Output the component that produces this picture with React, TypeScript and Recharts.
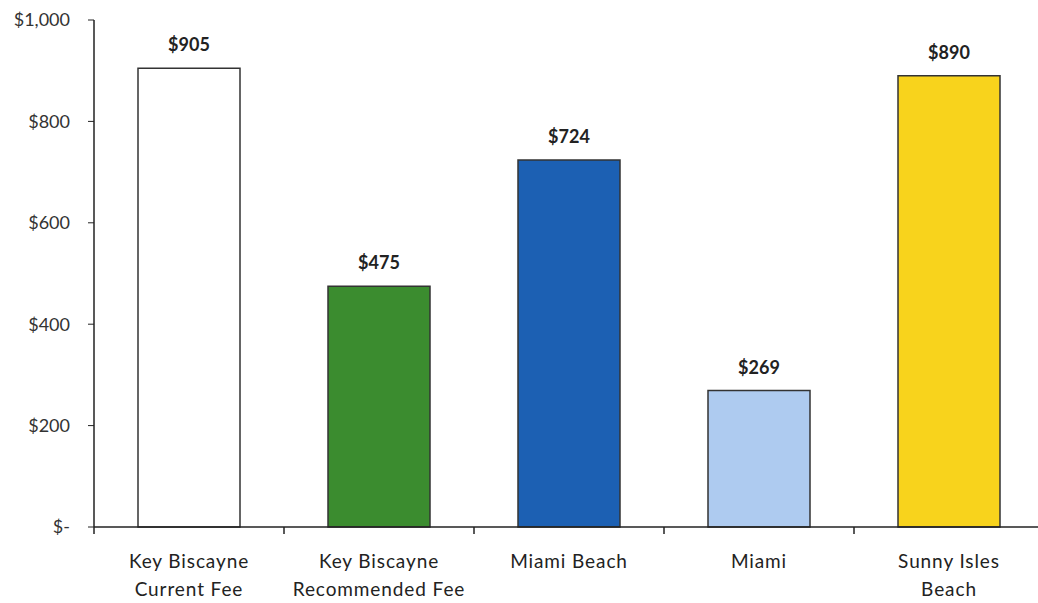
import { BarChart, Bar, XAxis, YAxis, Cell, LabelList } from 'recharts';

const categories = ['Key Biscayne|Current Fee', 'Key Biscayne|Recommended Fee', 'Miami Beach', 'Miami', 'Sunny Isles|Beach'];
const fees = [905, 475, 724, 269, 890];
const barColors = ['#ffffff', '#3b8c2f', '#1c60b3', '#aecbf0', '#f8d31c'];
const yTicks = [0, 200, 400, 600, 800, 1000];

const data = categories.map((name, i) => ({ name, fee: fees[i] }));

const FONT = 'Lato, "Open Sans", sans-serif';
const BAND = 190;

const money = (v: number) => (v === 0 ? '$-' : `$${v.toLocaleString('en-US')}`);

// two-line category label plus the small tick mark at the left band boundary
function CategoryTick(props: any) {
  const { x, y, payload } = props;
  const lines = String(payload.value).split('|');
  return (
    <g>
      <line x1={x - BAND / 2} x2={x - BAND / 2} y1={y - 8} y2={y - 1} stroke="#222" strokeWidth={1.5} />
      <text x={x} y={y} textAnchor="middle" fontFamily={FONT} fontSize={19} letterSpacing={0.9} fill="#222">
        {lines.map((l, i) => (
          <tspan key={i} x={x} dy={i === 0 ? 33 : 28}>
            {l}
          </tspan>
        ))}
      </text>
    </g>
  );
}

export default function App() {
  return (
    <div style={{ position: 'absolute', left: 0, top: 0, width: 1038, height: 603, overflow: 'hidden', background: '#fff' }}>
      <BarChart width={1046} height={603} data={data} margin={{ top: 20, right: 2, left: 0, bottom: 0 }}>
        <XAxis
          dataKey="name"
          height={76}
          axisLine={{ stroke: '#222', strokeWidth: 1.5 }}
          tickLine={false}
          tick={<CategoryTick />}
          interval={0}
        />
        <YAxis
          width={94}
          domain={[0, 1000]}
          ticks={yTicks}
          tickFormatter={money}
          axisLine={{ stroke: '#222', strokeWidth: 1.5 }}
          tickLine={{ stroke: '#222' }}
          tickSize={6}
          tickMargin={18}
          tick={{ fill: '#333', fontFamily: FONT, fontSize: 18 }}
        />
        <Bar dataKey="fee" barSize={102} stroke="#333" strokeWidth={1.5} isAnimationActive={false}>
          {data.map((_, i) => (
            <Cell key={i} fill={barColors[i]} />
          ))}
          <LabelList
            dataKey="fee"
            position="top"
            offset={17}
            formatter={(v: any) => money(Number(v))}
            style={{ fontFamily: FONT, fontSize: 18, fontWeight: 700, fill: '#222' }}
          />
        </Bar>
      </BarChart>
    </div>
  );
}
